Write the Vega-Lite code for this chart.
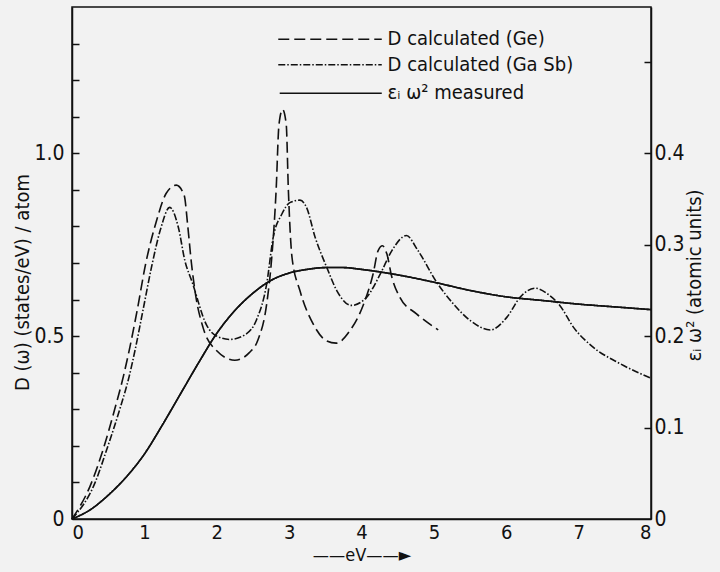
{
  "$schema": "https://vega.github.io/schema/vega-lite/v6.json",
  "width": 579,
  "height": 512,
  "autosize": {"type": "none"},
  "padding": {"left": 72, "top": 7, "right": 69, "bottom": 53},
  "background": "#f2f2f2",
  "config": {
    "view": {"stroke": "#111", "strokeWidth": 1.5},
    "font": "DejaVu Sans Condensed",
    "axis": {"grid": false, "domainColor": "#111", "domainWidth": 1.5, "tickColor": "#111", "tickWidth": 1.5,
      "labelFont": "DejaVu Sans Condensed", "labelFontSize": 21, "labelColor": "#111", "labelOverlap": false,
      "titleFont": "DejaVu Sans Condensed", "titleFontSize": 20, "titleFontWeight": "normal", "titleColor": "#111"},
    "text": {"font": "DejaVu Sans Condensed"}
  },
  "datasets": {
    "calc": [
      {"series": "Ge", "eV": 0, "D": 0},
      {"series": "Ge", "eV": 0.25, "D": 0.09},
      {"series": "Ge", "eV": 0.43, "D": 0.19},
      {"series": "Ge", "eV": 0.59, "D": 0.3},
      {"series": "Ge", "eV": 0.71, "D": 0.39},
      {"series": "Ge", "eV": 0.8, "D": 0.47},
      {"series": "Ge", "eV": 0.9, "D": 0.57},
      {"series": "Ge", "eV": 1.02, "D": 0.7},
      {"series": "Ge", "eV": 1.16, "D": 0.81},
      {"series": "Ge", "eV": 1.3, "D": 0.89},
      {"series": "Ge", "eV": 1.44, "D": 0.913},
      {"series": "Ge", "eV": 1.55, "D": 0.885},
      {"series": "Ge", "eV": 1.6, "D": 0.8},
      {"series": "Ge", "eV": 1.65, "D": 0.7},
      {"series": "Ge", "eV": 1.71, "D": 0.61},
      {"series": "Ge", "eV": 1.81, "D": 0.524},
      {"series": "Ge", "eV": 2.0, "D": 0.46},
      {"series": "Ge", "eV": 2.25, "D": 0.434},
      {"series": "Ge", "eV": 2.45, "D": 0.455},
      {"series": "Ge", "eV": 2.57, "D": 0.49},
      {"series": "Ge", "eV": 2.69, "D": 0.588},
      {"series": "Ge", "eV": 2.76, "D": 0.715},
      {"series": "Ge", "eV": 2.82, "D": 0.897},
      {"series": "Ge", "eV": 2.86, "D": 1.079},
      {"series": "Ge", "eV": 2.91, "D": 1.12},
      {"series": "Ge", "eV": 2.96, "D": 1.079},
      {"series": "Ge", "eV": 2.99, "D": 0.897},
      {"series": "Ge", "eV": 3.04, "D": 0.715},
      {"series": "Ge", "eV": 3.15, "D": 0.624},
      {"series": "Ge", "eV": 3.33, "D": 0.534},
      {"series": "Ge", "eV": 3.52, "D": 0.487},
      {"series": "Ge", "eV": 3.65, "D": 0.481},
      {"series": "Ge", "eV": 3.84, "D": 0.515},
      {"series": "Ge", "eV": 4.03, "D": 0.588},
      {"series": "Ge", "eV": 4.16, "D": 0.67},
      {"series": "Ge", "eV": 4.23, "D": 0.734},
      {"series": "Ge", "eV": 4.29, "D": 0.747},
      {"series": "Ge", "eV": 4.35, "D": 0.725},
      {"series": "Ge", "eV": 4.42, "D": 0.661},
      {"series": "Ge", "eV": 4.53, "D": 0.606},
      {"series": "Ge", "eV": 4.76, "D": 0.561},
      {"series": "Ge", "eV": 5.06, "D": 0.517},
      {"series": "GaSb", "eV": 0, "D": 0},
      {"series": "GaSb", "eV": 0.32, "D": 0.1},
      {"series": "GaSb", "eV": 0.48, "D": 0.19},
      {"series": "GaSb", "eV": 0.66, "D": 0.3},
      {"series": "GaSb", "eV": 0.79, "D": 0.39},
      {"series": "GaSb", "eV": 0.88, "D": 0.47},
      {"series": "GaSb", "eV": 0.98, "D": 0.57},
      {"series": "GaSb", "eV": 1.1, "D": 0.69},
      {"series": "GaSb", "eV": 1.22, "D": 0.79},
      {"series": "GaSb", "eV": 1.35, "D": 0.852},
      {"series": "GaSb", "eV": 1.47, "D": 0.797},
      {"series": "GaSb", "eV": 1.56, "D": 0.706},
      {"series": "GaSb", "eV": 1.66, "D": 0.648},
      {"series": "GaSb", "eV": 1.86, "D": 0.53},
      {"series": "GaSb", "eV": 2.0, "D": 0.5},
      {"series": "GaSb", "eV": 2.18, "D": 0.491},
      {"series": "GaSb", "eV": 2.4, "D": 0.505},
      {"series": "GaSb", "eV": 2.55, "D": 0.545},
      {"series": "GaSb", "eV": 2.69, "D": 0.643},
      {"series": "GaSb", "eV": 2.78, "D": 0.77},
      {"series": "GaSb", "eV": 2.9, "D": 0.834},
      {"series": "GaSb", "eV": 3.01, "D": 0.865},
      {"series": "GaSb", "eV": 3.15, "D": 0.872},
      {"series": "GaSb", "eV": 3.24, "D": 0.852},
      {"series": "GaSb", "eV": 3.36, "D": 0.77},
      {"series": "GaSb", "eV": 3.52, "D": 0.688},
      {"series": "GaSb", "eV": 3.66, "D": 0.624},
      {"series": "GaSb", "eV": 3.86, "D": 0.584},
      {"series": "GaSb", "eV": 4.07, "D": 0.606},
      {"series": "GaSb", "eV": 4.26, "D": 0.67},
      {"series": "GaSb", "eV": 4.42, "D": 0.734},
      {"series": "GaSb", "eV": 4.62, "D": 0.775},
      {"series": "GaSb", "eV": 4.78, "D": 0.734},
      {"series": "GaSb", "eV": 5.04, "D": 0.647},
      {"series": "GaSb", "eV": 5.27, "D": 0.588},
      {"series": "GaSb", "eV": 5.5, "D": 0.543},
      {"series": "GaSb", "eV": 5.78, "D": 0.517},
      {"series": "GaSb", "eV": 6.01, "D": 0.552},
      {"series": "GaSb", "eV": 6.19, "D": 0.606},
      {"series": "GaSb", "eV": 6.4, "D": 0.631},
      {"series": "GaSb", "eV": 6.6, "D": 0.611},
      {"series": "GaSb", "eV": 6.74, "D": 0.584},
      {"series": "GaSb", "eV": 6.93, "D": 0.524},
      {"series": "GaSb", "eV": 7.2, "D": 0.47},
      {"series": "GaSb", "eV": 7.57, "D": 0.425},
      {"series": "GaSb", "eV": 8.0, "D": 0.385}
    ],
    "measured": [
      {"series": "measured", "eV": 0, "eps": 0},
      {"series": "measured", "eV": 0.25, "eps": 0.01},
      {"series": "measured", "eV": 0.5, "eps": 0.026},
      {"series": "measured", "eV": 0.75, "eps": 0.046},
      {"series": "measured", "eV": 1.0, "eps": 0.071},
      {"series": "measured", "eV": 1.25, "eps": 0.103},
      {"series": "measured", "eV": 1.5, "eps": 0.137},
      {"series": "measured", "eV": 1.75, "eps": 0.171},
      {"series": "measured", "eV": 2.0, "eps": 0.203},
      {"series": "measured", "eV": 2.25, "eps": 0.228},
      {"series": "measured", "eV": 2.5, "eps": 0.247},
      {"series": "measured", "eV": 2.75, "eps": 0.261},
      {"series": "measured", "eV": 3.0, "eps": 0.269},
      {"series": "measured", "eV": 3.25, "eps": 0.273},
      {"series": "measured", "eV": 3.5, "eps": 0.275},
      {"series": "measured", "eV": 3.75, "eps": 0.275},
      {"series": "measured", "eV": 4.0, "eps": 0.273},
      {"series": "measured", "eV": 4.5, "eps": 0.267},
      {"series": "measured", "eV": 5.0, "eps": 0.259},
      {"series": "measured", "eV": 5.5, "eps": 0.25},
      {"series": "measured", "eV": 6.0, "eps": 0.243},
      {"series": "measured", "eV": 6.5, "eps": 0.239},
      {"series": "measured", "eV": 7.0, "eps": 0.235},
      {"series": "measured", "eV": 7.5, "eps": 0.232},
      {"series": "measured", "eV": 8.0, "eps": 0.229}
    ],
    "legend": [
      {"series": "Ge", "x1": 2.85, "x2": 4.28, "xt": 4.36, "y": 1.312, "label": "D calculated (Ge)"},
      {"series": "GaSb", "x1": 2.85, "x2": 4.28, "xt": 4.36, "y": 1.242, "label": "D calculated (Ga Sb)"},
      {"series": "measured", "x1": 2.87, "x2": 4.28, "xt": 4.36, "y": 1.164, "label": "εᵢ ω² measured"}
    ]
  },
  "layer": [
    {
      "layer": [
        {
          "data": {"name": "calc"},
          "mark": {"type": "line", "interpolate": "monotone", "color": "#111", "strokeWidth": 1.6},
          "encoding": {
            "x": {"field": "eV", "type": "quantitative", "scale": {"domain": [0, 8], "nice": false},
              "axis": {"values": [0, 1, 2, 3, 4, 5, 6, 7, 8], "format": "d", "ticks": false, "labelPadding": 3, "labelFontSize": 20, "title": "——eV——►", "titleFontSize": 18, "titlePadding": 4}},
            "y": {"field": "D", "type": "quantitative", "scale": {"domain": [0, 1.4], "nice": false},
              "axis": {"orient": "left", "values": [0, 0.5, 1],
                "labelExpr": "datum.value==0?'0':datum.value==0.5?'0.5':'1.0'",
                "ticks": false, "labelPadding": 8,
                "title": "D (ω)    (states/eV) / atom", "titleX": -50, "titleY": 275, "titleAngle": 270, "titleAlign": "center", "titleBaseline": "middle"}},
            "strokeDash": {"field": "series", "type": "nominal",
              "scale": {"domain": ["Ge", "GaSb", "measured"], "range": [[11, 5], [7, 2, 1.5, 2], [1, 0]]},
              "legend": null}
          }
        },
        {
          "data": {"name": "legend"},
          "mark": {"type": "rule", "color": "#111", "strokeWidth": 1.6},
          "encoding": {
            "x": {"field": "x1", "type": "quantitative"},
            "x2": {"field": "x2"},
            "y": {"field": "y", "type": "quantitative",
              "axis": {"orient": "right", "offset": -579, "values": [0.1, 0.2, 0.3, 0.4, 0.5, 0.6, 0.7, 0.8, 0.9, 1, 1.1, 1.2, 1.3],
                "labels": false, "domain": false, "ticks": true, "tickSize": 7, "title": null}},
            "strokeDash": {"field": "series", "type": "nominal", "legend": null}
          }
        },
        {
          "data": {"name": "legend"},
          "mark": {"type": "text", "align": "left", "baseline": "middle", "fontSize": 20, "color": "#111", "font": "DejaVu Sans Condensed"},
          "encoding": {
            "x": {"field": "xt", "type": "quantitative"},
            "y": {"field": "y", "type": "quantitative", "axis": null},
            "text": {"field": "label"}
          }
        }
      ]
    },
    {
      "layer": [
        {
          "data": {"name": "measured"},
          "mark": {"type": "line", "interpolate": "monotone", "color": "#111", "strokeWidth": 1.6},
          "encoding": {
            "x": {"field": "eV", "type": "quantitative"},
            "y": {"field": "eps", "type": "quantitative", "scale": {"domain": [0, 0.56], "nice": false},
              "axis": {"orient": "right", "values": [0, 0.1, 0.2, 0.3, 0.4],
                "labelExpr": "datum.value==0?'0':format(datum.value,'.1f')",
                "ticks": false, "labelPadding": 3,
                "title": "εᵢ ω² (atomic units)", "titleX": 43, "titleY": 268, "titleAngle": 270, "titleAlign": "center", "titleBaseline": "middle"}},
            "strokeDash": {"field": "series", "type": "nominal", "legend": null}
          }
        },
        {
          "data": {"name": "measured"},
          "mark": {"type": "line", "interpolate": "monotone", "color": "#111", "strokeWidth": 1.6},
          "encoding": {
            "x": {"field": "eV", "type": "quantitative"},
            "y": {"field": "eps", "type": "quantitative",
              "axis": {"orient": "left", "offset": -579, "values": [0.1, 0.2, 0.3, 0.4, 0.5],
                "labels": false, "domain": false, "ticks": true, "tickSize": 7, "title": null}},
            "strokeDash": {"field": "series", "type": "nominal", "legend": null}
          }
        }
      ]
    }
  ],
  "resolve": {"scale": {"y": "independent"}}
}
